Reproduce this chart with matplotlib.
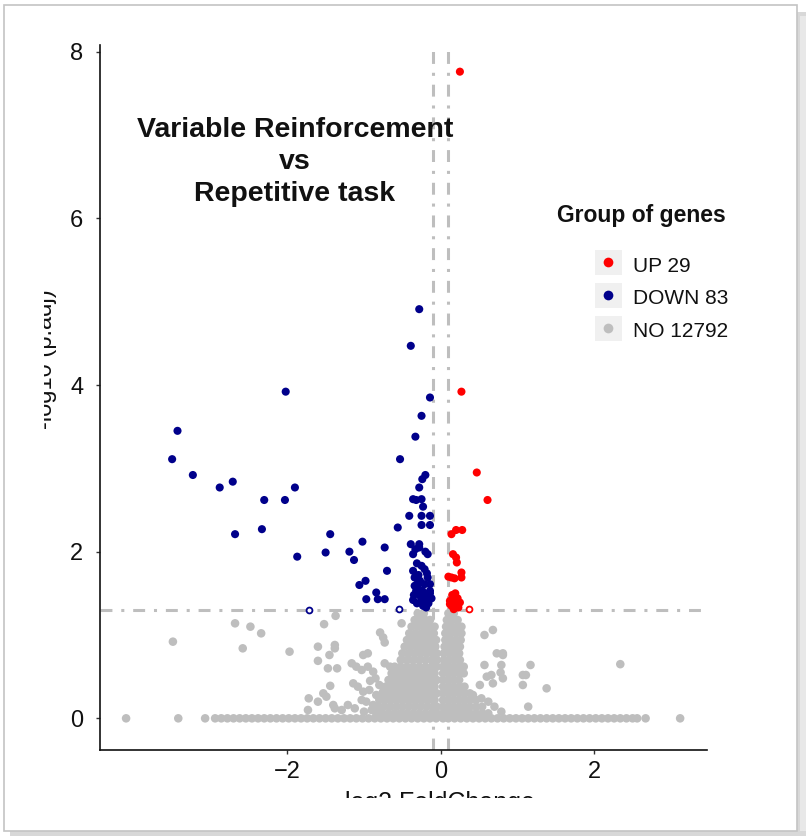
import matplotlib
matplotlib.use("Agg")
import matplotlib.pyplot as plt
from matplotlib.patches import Rectangle
from matplotlib.lines import Line2D
from matplotlib.transforms import Bbox, TransformedBbox

plt.rcParams['font.family'] = ['Liberation Sans', 'DejaVu Sans']

# ---- data (log2 fold change, -log10 p) ----
up_count, down_count, no_count = 29, 83, 12792

up_x = [0.25, 0.27, 0.47, 0.61, 0.14, 0.20, 0.28, 0.16, 0.20, 0.21, 0.10, 0.14, 0.18, 0.27,
        0.27, 0.12, 0.16, 0.20, 0.25, 0.18, 0.14, 0.23, 0.15, 0.19, 0.22, 0.12, 0.17, 0.21]
up_y = [7.76, 3.92, 2.95, 2.62, 2.21, 2.26, 2.26, 1.97, 1.93, 1.87, 1.70, 1.69, 1.68, 1.75,
        1.69, 1.41, 1.45, 1.41, 1.39, 1.35, 1.35, 1.33, 1.48, 1.50, 1.44, 1.37, 1.31, 1.38]
up_open_x = [0.37]
up_open_y = [1.31]

down_x = [-2.02, -3.43, -3.50, -3.23, -2.88, -2.71, -2.30, -2.03, -1.90, -2.68, -2.33, -1.87,
          -1.44, -1.50, -1.19, -1.13, -1.02, -0.73, -0.70, -1.06, -0.98, -0.84, -0.97, -0.82,
          -0.73, -0.28, -0.39, -0.14, -0.25, -0.33, -0.53, -0.20, -0.24, -0.28, -0.36, -0.32,
          -0.25, -0.23, -0.41, -0.25, -0.14, -0.25, -0.14, -0.56, -0.39, -0.28, -0.36, -0.28,
          -0.17, -0.25, -0.21, -0.36, -0.17, -0.34, -0.27, -0.21, -0.14, -0.32, -0.24, -0.14,
          -0.34, -0.36, -0.23, -0.19, -0.14, -0.23, -0.19, -0.30, -0.27, -0.31, -0.16, -0.29,
          -0.31, -0.20, -0.33, -0.18, -0.26, -0.21, -0.35, -0.12, -0.30]
down_y = [3.92, 3.45, 3.11, 2.92, 2.77, 2.84, 2.62, 2.62, 2.77, 2.21, 2.27, 1.94,
          2.21, 1.99, 2.00, 1.90, 2.12, 2.05, 1.77, 1.60, 1.65, 1.51, 1.43, 1.43,
          1.43, 4.91, 4.47, 3.85, 3.63, 3.38, 3.11, 2.92, 2.87, 2.77, 2.63, 2.62,
          2.63, 2.54, 2.43, 2.43, 2.43, 2.32, 2.32, 2.29, 2.09, 2.09, 1.97, 2.05,
          1.97, 1.83, 1.79, 1.77, 1.69, 1.69, 1.65, 1.61, 1.61, 1.53, 1.53, 1.53,
          1.59, 1.42, 1.43, 1.45, 1.50, 1.35, 1.33, 1.58, 1.47, 1.38, 1.38, 1.72,
          1.86, 2.00, 2.03, 1.74, 1.40, 1.49, 1.48, 1.44, 1.62]
down_open_x = [-1.72, -0.55]
down_open_y = [1.30, 1.31]

# NO genes: scattered ones read one by one
no_x = [-4.10, -3.42, -3.07, 2.67, 3.12,
        -2.68, -2.48, -2.34, -3.49, -2.58, -1.97, -1.60, -1.38, -1.38, -1.45, -1.60, -1.47,
        -1.35, -1.44, -1.53, -1.49, -1.72, -1.60, -1.40, -1.38, -1.73, -1.52, -1.37,
        -0.79, -0.75, -0.73, -1.01, -0.95, -0.51,
        -1.16, -1.10, -1.03, -0.95, -0.88, -0.73, -0.66, -1.14, -1.08, -1.01, -0.93, -0.84,
        -0.75, -1.29, -1.21, -1.03, -0.97, -0.88, -0.79, -0.92, -0.85, -0.80, -0.90, -1.00, -1.12,
        0.68, 0.57, 0.73, 0.81, 0.57, 0.79, 0.66, 0.60, 0.81, 0.51, 0.68, 1.07, 1.07, 0.81,
        1.17, 2.34, 1.11, 1.38, 1.14, 0.42, 0.53, 0.62, 0.70, 0.79, 0.78]
no_y = [0.0, 0.0, 0.0, 0.0, 0.0,
        1.14, 1.10, 1.02, 0.92, 0.84, 0.80, 0.86, 0.88, 0.84, 0.76, 0.69, 0.60,
        0.60, 0.39, 0.30, 0.26, 0.24, 0.20, 0.16, 0.12, 0.10, 1.13, 1.23,
        1.03, 0.97, 0.91, 0.76, 0.78, 1.14,
        0.66, 0.62, 0.58, 0.62, 0.56, 0.66, 0.62, 0.42, 0.38, 0.32, 0.34, 0.28,
        0.32, 0.10, 0.16, 0.22, 0.20, 0.16, 0.12, 0.45, 0.48, 0.40, 0.10, 0.08, 0.12,
        1.06, 1.00, 0.78, 0.78, 0.64, 0.64, 0.52, 0.50, 0.48, 0.40, 0.42, 0.52, 0.40, 0.76,
        0.64, 0.65, 0.52, 0.36, 0.14, 0.28, 0.24, 0.20, 0.14, 0.08, 0.55]

# NO genes: the thick run lying on y = 0
base_x = [-2.94, -2.86, -2.78, -2.70, -2.62, -2.54, -2.46, -2.38, -2.30, -2.22, -2.14, -2.06,
          -1.98, -1.90, -1.82, -1.74, -1.66, -1.58, -1.50, -1.42, -1.34, -1.26, -1.18, -1.10,
          -1.02, -0.94, -0.86, -0.78, -0.70, -0.62, -0.54, -0.46, -0.38, -0.30, -0.22, -0.14,
          -0.06, 0.03, 0.10, 0.18, 0.26, 0.34, 0.42, 0.50, 0.58, 0.66, 0.74, 0.82, 0.90, 0.98,
          1.06, 1.14, 1.22, 1.30, 1.38, 1.46, 1.54, 1.62, 1.70, 1.78, 1.86, 1.94, 2.02, 2.10,
          2.18, 2.26, 2.34, 2.42, 2.50, 2.56]

# NO genes: the two dense columns around x = 0, one row per level
col_levels = [1.26, 1.18, 1.10, 1.02, 0.94, 0.86, 0.78, 0.70, 0.62, 0.54, 0.46, 0.38, 0.30,
              0.22, 0.14, 0.06]
left_rows = [
    [-0.30, -0.22],
    [-0.34, -0.27, -0.20, -0.14],
    [-0.38, -0.30, -0.22, -0.15, -0.08],
    [-0.41, -0.33, -0.25, -0.17, -0.09],
    [-0.44, -0.36, -0.28, -0.20, -0.12, -0.06],
    [-0.47, -0.39, -0.31, -0.23, -0.15, -0.07],
    [-0.50, -0.42, -0.34, -0.26, -0.18, -0.10, -0.05],
    [-0.52, -0.44, -0.36, -0.28, -0.20, -0.12, -0.05],
    [-0.60, -0.52, -0.44, -0.36, -0.28, -0.20, -0.12, -0.05],
    [-0.64, -0.56, -0.48, -0.40, -0.32, -0.24, -0.16, -0.08],
    [-0.68, -0.60, -0.52, -0.44, -0.36, -0.28, -0.20, -0.12, -0.05],
    [-0.72, -0.64, -0.56, -0.48, -0.40, -0.32, -0.24, -0.16, -0.08],
    [-0.76, -0.68, -0.60, -0.52, -0.44, -0.36, -0.28, -0.20, -0.12, -0.05],
    [-0.80, -0.72, -0.64, -0.56, -0.48, -0.40, -0.32, -0.24, -0.16, -0.08],
    [-0.82, -0.74, -0.66, -0.58, -0.50, -0.42, -0.34, -0.26, -0.18, -0.10, -0.05],
    [-0.84, -0.76, -0.68, -0.60, -0.52, -0.44, -0.36, -0.28, -0.20, -0.12, -0.05],
]
right_rows = [
    [0.10, 0.17],
    [0.08, 0.15, 0.22],
    [0.07, 0.14, 0.21, 0.27],
    [0.06, 0.13, 0.20, 0.27],
    [0.06, 0.13, 0.20, 0.26],
    [0.05, 0.12, 0.19, 0.25],
    [0.04, 0.11, 0.18, 0.24],
    [0.04, 0.11, 0.18, 0.25],
    [0.03, 0.10, 0.17, 0.24, 0.30],
    [0.03, 0.10, 0.17, 0.24, 0.30],
    [0.03, 0.10, 0.17, 0.24],
    [0.03, 0.10, 0.17, 0.24, 0.31],
    [0.03, 0.10, 0.17, 0.24, 0.31, 0.38],
    [0.03, 0.10, 0.17, 0.24, 0.31, 0.38, 0.46],
    [0.03, 0.10, 0.17, 0.24, 0.31, 0.38, 0.46, 0.54],
    [0.03, 0.10, 0.17, 0.24, 0.31, 0.38, 0.46, 0.54, 0.62],
]

fc_cut = 0.1
p_cut = 1.30

# ---- assemble gray points ----
gray_x = list(no_x) + list(base_x)
gray_y = list(no_y) + [0.0] * len(base_x)
for lev, lrow, rrow in zip(col_levels, left_rows, right_rows):
    gray_x += lrow + rrow
    gray_y += [lev] * (len(lrow) + len(rrow))

W, H = 806, 836
fig = plt.figure(figsize=(W / 100, H / 100), dpi=100)
ax = fig.add_axes([100 / W, 1 - 750 / H, 607 / W, 705 / H])

grey = '#BEBEBE'
blue = '#00008B'
red = '#FF0000'

ax.axvline(-fc_cut, color=grey, lw=2.2, ls=(0, (3.9, 2.9, 1.0, 2.9)), zorder=1)
ax.axvline(fc_cut, color=grey, lw=2.2, ls=(0, (3.9, 2.9, 1.0, 2.9)), zorder=1)
ax.axhline(p_cut, color=grey, lw=2.2, ls=(0, (3.9, 2.9, 1.0, 2.9)), zorder=1)

ax.scatter(gray_x, gray_y, s=38, color=grey, edgecolors='none', zorder=2)
ax.scatter(down_x, down_y, s=34, color=blue, edgecolors='none', zorder=3)
ax.scatter(up_x, up_y, s=34, color=red, edgecolors='none', zorder=3)
ax.scatter(down_open_x, down_open_y, s=18, facecolors='white', edgecolors=blue, linewidths=1.3, zorder=3)
ax.scatter(up_open_x, up_open_y, s=18, facecolors='white', edgecolors=red, linewidths=1.3, zorder=3)

ax.set_xlim(-4.44, 3.47)
ax.set_ylim(-0.38, 8.08)
ax.set_xticks([-2, 0, 2])
ax.set_yticks([0, 2, 4, 6, 8])
for s in ['top', 'right']:
    ax.spines[s].set_visible(False)
for s in ['left', 'bottom']:
    ax.spines[s].set_linewidth(1.2)
    ax.spines[s].set_color('#111111')
ax.tick_params(direction='out', length=3, width=1, color='#333333',
               labelsize=17, labelcolor='#111111')
ax.tick_params(axis='y', pad=9)
ax.tick_params(axis='x', pad=5)

ax.text(0.321, 0.834, 'Variable Reinforcement\nvs\nRepetitive task', transform=ax.transAxes,
        ha='center', va='center', fontsize=20.5, fontweight='bold', linespacing=1.3,
        color='#111111')

# axis titles, cut off by the screenshot edge
xl = fig.text(440 / W, 1 - 810 / H, 'log2 FoldChange', ha='center', va='baseline', fontsize=18,
              color='#111111')
xl.set_clip_box(TransformedBbox(Bbox([[0, 1 - 798 / H], [1, 1]]), fig.transFigure))
xl.set_clip_on(True)
yl = fig.text(57 / W, 1 - 359 / H, '-log10 (p.adj)', ha='right', va='center', rotation=90,
              fontsize=17, color='#111111')
yl.set_clip_box(TransformedBbox(Bbox([[44 / W, 0], [1, 1]]), fig.transFigure))
yl.set_clip_on(True)

# legend
fig.text(557 / W, 1 - 222 / H, 'Group of genes', ha='left', va='baseline', fontsize=16.5,
         fontweight='bold', color='#111111')
leg_labels = ['UP %d' % up_count, 'DOWN %d' % down_count, 'NO %d' % no_count]
leg_colors = [red, blue, grey]
row_centers = [262, 295, 328]
for lab, col, yc in zip(leg_labels, leg_colors, row_centers):
    fig.add_artist(Rectangle((595 / W, 1 - (yc + 12.5) / H), 27 / W, 25 / H,
                             transform=fig.transFigure, facecolor='#F0F0F0', edgecolor='none'))
    fig.add_artist(Line2D([608 / W], [1 - yc / H], transform=fig.transFigure, marker='o',
                          markersize=7, color=col, markeredgecolor='none', linestyle='none'))
    fig.text(633 / W, 1 - (yc + 9.5) / H, lab, ha='left', va='baseline', fontsize=15,
             color='#111111')

# screenshot frame with shadow
fig.add_artist(Rectangle((797 / W, 0), 9 / W, 824 / H, transform=fig.transFigure,
                         facecolor='#D8D8D8', edgecolor='none'))
fig.add_artist(Rectangle((800 / W, 0), 6 / W, 820 / H, transform=fig.transFigure,
                         facecolor='#E8E8E8', edgecolor='none'))
fig.add_artist(Rectangle((10 / W, 0), 796 / W, 5 / H, transform=fig.transFigure,
                         facecolor='#D8D8D8', edgecolor='none'))
fig.add_artist(Rectangle((4 / W, 1 - 831 / H), 793 / W, 826 / H, transform=fig.transFigure,
                         facecolor='none', edgecolor='#C4C4C4', linewidth=1.2))

fig.savefig('out.png', dpi=100)
